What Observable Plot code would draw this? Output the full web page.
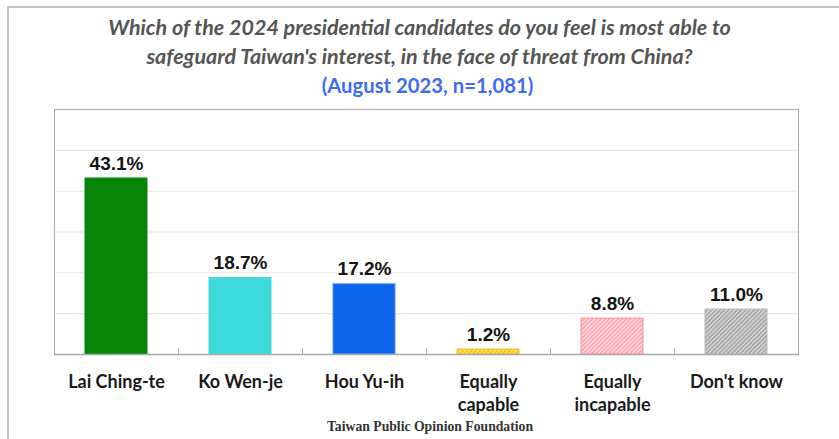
<!DOCTYPE html>
<html><head><meta charset="utf-8">
<script src="https://cdn.jsdelivr.net/npm/d3@7"></script>
<script src="https://cdn.jsdelivr.net/npm/@observablehq/plot@0.6"></script>
<style>
body{margin:0;background:#fff;}
#wrap{position:relative;width:839px;height:439px;overflow:hidden;background:#fff;}
#frame{position:absolute;left:7px;top:6px;width:900px;height:500px;border-top:2px solid #c4c4c4;border-left:2px solid #c4c4c4;z-index:5;pointer-events:none;}
.t{position:absolute;left:0;width:839px;text-align:center;font-family:Lato,sans-serif;font-weight:700;white-space:nowrap;line-height:1;}
#t1,#t2{font-style:italic;color:#555;font-size:21.5px;}
#t1{top:17px;}
#t2{top:46px;}
#t3{top:75px;left:8px;color:#3d6cf2;font-size:20.3px;}
#chart{position:absolute;left:0;top:100px;}
#foot{position:absolute;left:0;width:860px;top:419px;text-align:center;font-family:"Liberation Serif",serif;font-weight:700;font-size:13.7px;color:#333;}
</style>
</head><body>
<div id="wrap">
<div class="t" id="t1">Which of the 2024 presidential candidates do you feel is most able to</div>
<div class="t" id="t2">safeguard Taiwan's interest, in the face of threat from China?</div>
<div class="t" id="t3">(August 2023, n=1,081)</div>
<div id="chart"></div>
<div id="foot">Taiwan Public Opinion Foundation</div>
<div id="frame"></div>
</div>
<script>
// Data
const categories = ["Lai Ching-te", "Ko Wen-je", "Hou Yu-ih", "Equally capable", "Equally incapable", "Don't know"];
const tickLabels = ["Lai Ching-te", "Ko Wen-je", "Hou Yu-ih", "Equally\ncapable", "Equally\nincapable", "Don't know"];
const values = [43.1, 18.7, 17.2, 1.2, 8.8, 11.0];
const gridTicks = [10, 20, 30, 40, 50];

// Styles
const barFills = ["#088508", "#3ddbdb", "#0b63ea", "url(#hatch-yellow)", "url(#hatch-pink)", "url(#hatch-gray)"];
const barStrokes = ["#088508", "#3ddbdb", "#5b96f4", "#f2c200", "#ff8f99", "#b8b8b8"];

const data = categories.map((c, i) => ({cat: c, value: values[i], i}));
const labelOf = new Map(categories.map((c, i) => [c, tickLabels[i]]));

const W = 839, H = 339, mL = 54, mR = 41, mT = 9, mB = 85;
const step = (W - mL - mR) / categories.length;

const svg = Plot.plot({
  width: W, height: H,
  marginLeft: mL, marginRight: mR, marginTop: mT, marginBottom: mB,
  x: {domain: categories, paddingInner: 0.5, paddingOuter: 0.25, label: null},
  y: {domain: [0, 60], axis: null},
  style: {background: "transparent"},
  marks: [
    Plot.gridY(gridTicks, {stroke: "#e4e4e4", strokeOpacity: 1}),
    Plot.frame({stroke: "#a8a8a8"}),
    Plot.barY(data, {
      x: "cat", y: "value",
      fill: {value: d => barFills[d.i], scale: null},
      stroke: {value: d => barStrokes[d.i], scale: null},
      strokeWidth: 1
    }),
    Plot.ruleY([0], {stroke: "#a8a8a8", strokeWidth: 1.5}),
    Plot.ruleX(categories.slice(1), {x: d => d, y1: 0, y2: 0, insetTop: -6, dx: -step / 2, stroke: "#b0b0b0"}),
    Plot.text(data, {
      x: "cat", y: "value", text: d => d.value.toFixed(1) + "%",
      lineAnchor: "bottom", dy: -9,
      fontFamily: "Liberation Sans, Arial, sans-serif", fontWeight: 700, fontSize: 19, fill: "#151515"
    }),
    Plot.axisX({
      tickSize: 0, tickPadding: 16, tickFormat: d => labelOf.get(d), label: null,
      fontFamily: "Lato, sans-serif", fontWeight: 700, fontSize: 18, fill: "#1a1a1a", lineHeight: 1.33
    })
  ]
});

const defs = d3.select(svg).insert("defs", ":first-child");
function hatch(id, bg, fg) {
  const p = defs.append("pattern").attr("id", id).attr("patternUnits", "userSpaceOnUse")
    .attr("width", 3).attr("height", 3).attr("patternTransform", "rotate(45)");
  p.append("rect").attr("width", 3).attr("height", 3).attr("fill", bg);
  p.append("rect").attr("width", 1.5).attr("height", 3).attr("fill", fg);
}
hatch("hatch-yellow", "#ffe680", "#f2c200");
hatch("hatch-pink", "#ffe3e6", "#ff9aa4");
hatch("hatch-gray", "#e2e2e2", "#999999");

document.getElementById("chart").appendChild(svg);
</script>
</body></html>
